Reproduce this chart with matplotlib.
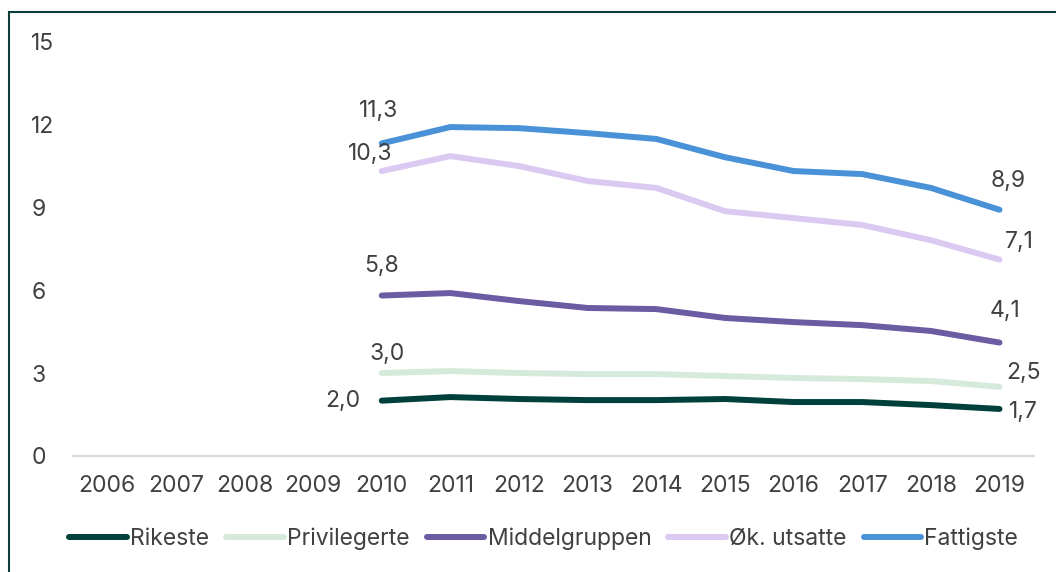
import matplotlib.pyplot as plt
from matplotlib.patches import Rectangle

plt.rcParams['font.family'] = ['Inter', 'DejaVu Sans']

years = [str(y) for y in range(2006, 2020)]
data_years = list(range(2010, 2020))

rikeste = [2.0, 2.13, 2.06, 2.02, 2.02, 2.06, 1.95, 1.95, 1.84, 1.7]
privilegerte = [3.0, 3.07, 3.0, 2.96, 2.96, 2.89, 2.82, 2.78, 2.71, 2.5]
middelgruppen = [5.8, 5.89, 5.6, 5.35, 5.31, 4.99, 4.84, 4.73, 4.52, 4.1]
ok_utsatte = [10.3, 10.84, 10.48, 9.94, 9.69, 8.85, 8.6, 8.35, 7.8, 7.1]
fattigste = [11.3, 11.89, 11.85, 11.67, 11.46, 10.8, 10.3, 10.19, 9.69, 8.9]

series = [
    ("Rikeste", rikeste, "#00403a"),
    ("Privilegerte", privilegerte, "#d6eadb"),
    ("Middelgruppen", middelgruppen, "#6b5ba3"),
    ("Øk. utsatte", ok_utsatte, "#dcc9f1"),
    ("Fattigste", fattigste, "#4a92d8"),
]

# label offsets (points) for first / last value
first_off = {"Rikeste": (-28, 0), "Privilegerte": (4, 14), "Middelgruppen": (0, 21),
             "Øk. utsatte": (-8, 12), "Fattigste": (-2, 23)}
last_off = {"Rikeste": (17, -2), "Privilegerte": (17, 10), "Middelgruppen": (4, 23),
            "Øk. utsatte": (14, 13), "Fattigste": (6, 21)}

text_color = "#404040"
fs = 16.5

fig = plt.figure(figsize=(10.56, 5.72), dpi=100)
ax = fig.add_axes([0.069, 0.2028, 0.91, 0.7255])

x_idx = [years.index(str(y)) for y in data_years]
for name, vals, col in series:
    ax.plot(x_idx, vals, color=col, lw=4.3, solid_capstyle='round', label=name)
    for i, off in ((0, first_off[name]), (-1, last_off[name])):
        ax.annotate(f"{vals[i]:.1f}".replace(".", ","), (x_idx[i], vals[i]),
                    xytext=off, textcoords='offset points', ha='center', va='center',
                    fontsize=fs, color=text_color)

ax.set_xlim(-0.5, len(years) - 0.5)
ax.set_ylim(0, 15)
ax.set_yticks([0, 3, 6, 9, 12, 15])
ax.set_xticks(range(len(years)))
ax.set_xticklabels(years)
for s in ['top', 'right', 'left']:
    ax.spines[s].set_visible(False)
ax.spines['bottom'].set_color('#d9d9d9')
ax.spines['bottom'].set_linewidth(1.5)
ax.tick_params(axis='both', length=0, labelsize=fs, colors=text_color)
ax.tick_params(axis='x', pad=14)
ax.tick_params(axis='y', pad=30)
for lbl in ax.get_yticklabels():
    lbl.set_horizontalalignment('left')

leg = fig.legend(loc='center', bbox_to_anchor=(0.515, 0.058), ncol=5, frameon=False,
                 fontsize=fs, handlelength=2.5, handletextpad=0.15, columnspacing=0.75)
for t in leg.get_texts():
    t.set_color(text_color)

fig.patches.append(Rectangle((9 / 1056, -0.1), 1.2, 1 - 11.5 / 572 + 0.1,
                             transform=fig.transFigure, fill=False,
                             edgecolor='#0d3d38', lw=1.5))

fig.savefig("out.png", dpi=100)
